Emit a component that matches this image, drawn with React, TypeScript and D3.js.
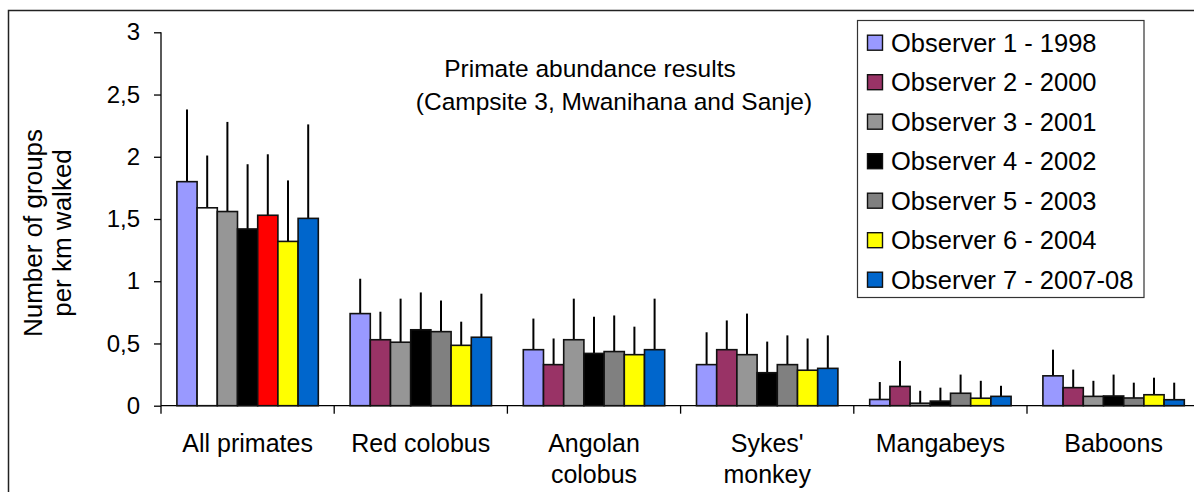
import React, { useEffect, useRef } from 'react';
import * as d3 from 'd3';

// Primate abundance (groups per km walked) by observer

const categories = ['All primates', 'Red colobus', 'Angolan colobus', "Sykes' monkey", 'Mangabeys', 'Baboons'];
const categoryLines = [['All primates'], ['Red colobus'], ['Angolan', 'colobus'], ["Sykes'", 'monkey'], ['Mangabeys'], ['Baboons']];

const observers = [
  'Observer 1 - 1998',
  'Observer 2 - 2000',
  'Observer 3 - 2001',
  'Observer 4 - 2002',
  'Observer 5 - 2003',
  'Observer 6 - 2004',
  'Observer 7 - 2007-08',
];
const observerColors = ['#9999FF', '#993366', '#969696', '#000000', '#808080', '#FFFF00', '#0066CC'];
// the "All primates" group is coloured differently in the original
const allPrimatesColors = ['#9999FF', '#FFFFFF', '#969696', '#000000', '#FF0000', '#FFFF00', '#0066CC'];

const means = [
  [1.8, 0.74, 0.45, 0.33, 0.05, 0.24],
  [1.59, 0.53, 0.33, 0.45, 0.155, 0.145],
  [1.56, 0.51, 0.53, 0.41, 0.02, 0.075],
  [1.42, 0.61, 0.42, 0.265, 0.037, 0.078],
  [1.53, 0.595, 0.435, 0.33, 0.1, 0.062],
  [1.32, 0.485, 0.41, 0.285, 0.06, 0.088],
  [1.505, 0.55, 0.45, 0.3, 0.075, 0.048],
];
const errors = [
  [0.58, 0.28, 0.25, 0.26, 0.14, 0.21],
  [0.42, 0.225, 0.21, 0.235, 0.205, 0.145],
  [0.72, 0.35, 0.33, 0.33, 0.1, 0.125],
  [0.52, 0.3, 0.295, 0.25, 0.108, 0.172],
  [0.49, 0.25, 0.29, 0.235, 0.15, 0.123],
  [0.49, 0.19, 0.225, 0.255, 0.14, 0.137],
  [0.755, 0.35, 0.41, 0.265, 0.085, 0.137],
];
const yTicks = [0, 0.5, 1, 1.5, 2, 2.5, 3];

const FONT = '"Liberation Sans", Arial, sans-serif';

const App = () => {
  const svgRef = useRef(null);

  useEffect(() => {
    const width = 1194;
    const height = 492;
    const svg = d3.select(svgRef.current);
    svg.selectAll('*').remove();

    // outer chart border (continues past the right and bottom edges)
    svg.append('rect')
      .attr('x', 8.5).attr('y', 10.5)
      .attr('width', width + 20).attr('height', height + 20)
      .attr('fill', 'white').attr('stroke', '#222').attr('stroke-width', 1.5);

    const x0 = d3.scaleBand().domain(categories).range([161, 161 + 6 * 173.2]).padding(0);
    const x1 = d3.scaleBand().domain(observers).range([0, x0.bandwidth()]).paddingInner(0).paddingOuter(0.787);
    const y = d3.scaleLinear().domain([0, 3]).range([405.7, 32.3]);
    const fmt = d3.formatLocale({ decimal: ',', thousands: '.', grouping: [3], currency: ['', ''] }).format('~g');

    // y axis
    const yAxis = svg.append('g')
      .attr('transform', 'translate(161,0)')
      .call(d3.axisLeft(y).tickValues(yTicks).tickFormat(fmt).tickSize(7).tickPadding(14));
    yAxis.select('.domain').attr('stroke', '#000').attr('stroke-width', 1.3).attr('d', `M0,${y(3)}V${y(0)}`);
    yAxis.selectAll('.tick line').attr('stroke', '#000').attr('stroke-width', 1.3);
    yAxis.selectAll('.tick text')
      .attr('font-family', FONT).attr('font-size', 24).attr('fill', '#000');

    // x axis with category boundary ticks
    const xr = x0.range();
    svg.append('line')
      .attr('x1', xr[0]).attr('x2', xr[1])
      .attr('y1', y(0)).attr('y2', y(0))
      .attr('stroke', '#000').attr('stroke-width', 1.3);
    svg.append('g').selectAll('line')
      .data(categories)
      .enter()
      .append('line')
      .attr('x1', d => x0(d)).attr('x2', d => x0(d))
      .attr('y1', y(0)).attr('y2', y(0) + 8)
      .attr('stroke', '#000').attr('stroke-width', 1.3);

    // category labels
    const labels = svg.append('g').selectAll('text')
      .data(categories)
      .enter()
      .append('text')
      .attr('x', d => x0(d) + x0.bandwidth() / 2)
      .attr('y', 452)
      .attr('text-anchor', 'middle')
      .attr('font-family', FONT).attr('font-size', 25).attr('fill', '#000');
    labels.each(function (d, i) {
      const t = d3.select(this);
      categoryLines[i].forEach((line, j) => {
        t.append('tspan')
          .attr('x', x0(d) + x0.bandwidth() / 2)
          .attr('dy', j === 0 ? 0 : 31)
          .text(line);
      });
    });

    // bars and error bars
    const data = [];
    observers.forEach((o, si) => {
      categories.forEach((c, ci) => {
        data.push({
          o, c, si, ci,
          v: means[si][ci],
          e: errors[si][ci],
          color: ci === 0 ? allPrimatesColors[si] : observerColors[si],
        });
      });
    });

    svg.append('g').selectAll('line')
      .data(data)
      .enter()
      .append('line')
      .attr('x1', d => x0(d.c) + x1(d.o) + x1.bandwidth() / 2)
      .attr('x2', d => x0(d.c) + x1(d.o) + x1.bandwidth() / 2)
      .attr('y1', d => y(d.v))
      .attr('y2', d => y(d.v + d.e))
      .attr('stroke', '#000').attr('stroke-width', 2);

    svg.append('g').selectAll('rect')
      .data(data)
      .enter()
      .append('rect')
      .attr('x', d => x0(d.c) + x1(d.o))
      .attr('y', d => y(d.v))
      .attr('width', x1.bandwidth())
      .attr('height', d => y(0) - y(d.v))
      .attr('fill', d => d.color)
      .attr('stroke', '#111').attr('stroke-width', 1.6);

    // title
    const title = svg.append('text')
      .attr('x', 590).attr('y', 77)
      .attr('text-anchor', 'middle')
      .attr('font-family', FONT).attr('font-size', 24.5).attr('fill', '#000');
    title.append('tspan').attr('x', 590).text('Primate abundance results');
    title.append('tspan').attr('x', 614).attr('dy', 33).text('(Campsite 3, Mwanihana and Sanje)');

    // y axis title
    const yt = svg.append('text')
      .attr('transform', 'translate(42,233) rotate(-90)')
      .attr('text-anchor', 'middle')
      .attr('font-family', FONT).attr('font-size', 26).attr('fill', '#000');
    yt.append('tspan').attr('x', 0).text('Number of groups');
    yt.append('tspan').attr('x', 0).attr('dy', 29).text('per km walked');

    // legend
    const lg = svg.append('g');
    lg.append('rect')
      .attr('x', 857.5).attr('y', 20.5).attr('width', 286.5).attr('height', 277)
      .attr('fill', 'white').attr('stroke', '#333').attr('stroke-width', 1.2);
    const rows = lg.selectAll('g.row')
      .data(observers)
      .enter()
      .append('g')
      .attr('class', 'row')
      .attr('transform', (d, i) => `translate(0,${42.7 + i * 39.5})`);
    rows.append('rect')
      .attr('x', 867.5).attr('y', -7.5).attr('width', 15).attr('height', 15)
      .attr('fill', (d, i) => observerColors[i])
      .attr('stroke', '#111').attr('stroke-width', 1.4);
    rows.append('text')
      .attr('x', 891).attr('y', 9)
      .attr('font-family', FONT).attr('font-size', 25.5).attr('fill', '#000')
      .text(d => d);
  }, []);

  return (
    <svg
      ref={svgRef}
      width="1194"
      height="492"
      style={{ position: 'absolute', left: 0, top: 0, display: 'block' }}
    />
  );
};

export default App;
